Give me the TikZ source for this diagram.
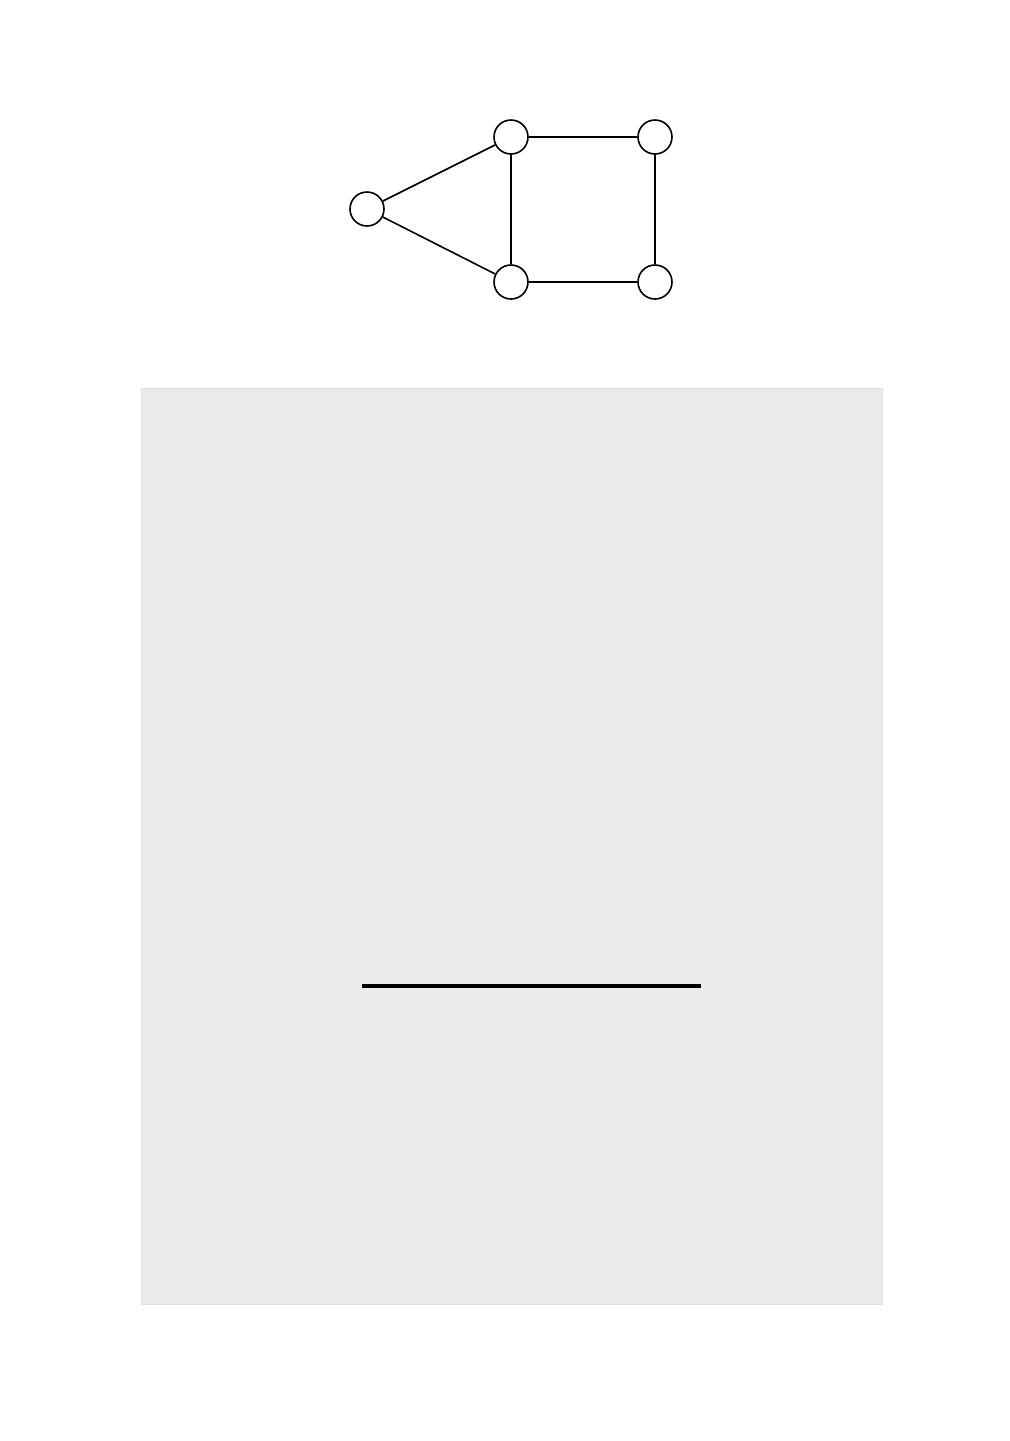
\documentclass[tikz,border=0pt]{standalone}
\usetikzlibrary{positioning}
\usepackage{xcolor}
\definecolor{panelc}{RGB}{235,235,235}
\definecolor{paneledge}{RGB}{222,222,222}
\tikzset{
  vertex/.style={draw=black, circle, minimum size=17pt, inner sep=0pt, line width=0.8pt, fill=white},
  edge/.style={black, line width=0.8pt},
  panel/.style={fill=panelc, draw=paneledge, line width=0.4pt},
  rulebar/.style={black, line width=1.6pt}
}
\begin{document}
\begin{tikzpicture}[x=0.5pt, y=-0.5pt]
  \useasboundingbox (0,0) rectangle (1009,1441);

  % ---- graph ----
  \node[vertex] (l)  at (367,209) {};
  \node[vertex] (tm) at (511,137) {};
  \node[vertex] (tr) at (655,137) {};
  \node[vertex] (bm) at (511,282) {};
  \node[vertex] (br) at (655,282) {};

  \draw[edge] (l) -- (tm);
  \draw[edge] (l) -- (bm);
  \draw[edge] (tm) -- (bm);
  \draw[edge] (tm) -- (tr);
  \draw[edge] (tr) -- (br);
  \draw[edge] (bm) -- (br);

  % ---- panel ----
  \draw[panel] (141,388) rectangle (882,1304);
  \coordinate (rulel) at (362,986);
  \coordinate (ruler) at (701,986);
  \draw[rulebar] (rulel) -- (ruler);
\end{tikzpicture}
\end{document}
